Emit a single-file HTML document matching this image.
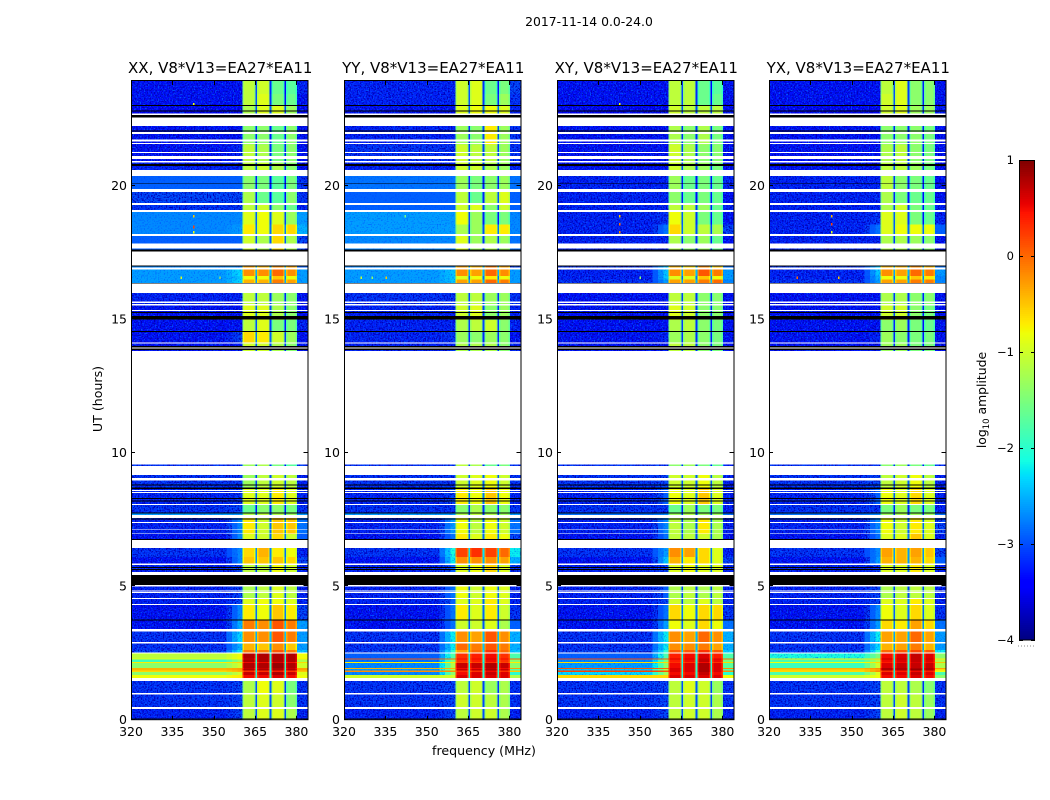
<!DOCTYPE html>
<html>
<head>
<meta charset="utf-8">
<title>2017-11-14 dynamic spectra</title>
<style>
html,body{margin:0;padding:0;background:#fff;width:1050px;height:800px;overflow:hidden}
svg{display:block}
text{font-family:"DejaVu Sans","Liberation Sans",sans-serif;fill:#000}
</style>
</head>
<body>
<svg id="figure" xmlns="http://www.w3.org/2000/svg" width="1050" height="800" viewBox="0 0 1050 800">
<defs>
<filter id="speckle" x="0" y="0" width="100%" height="100%" color-interpolation-filters="sRGB">
<feTurbulence type="fractalNoise" baseFrequency="0.72" numOctaves="1" seed="4" result="n"/>
<feColorMatrix in="n" type="matrix" values="0 0 0 0 0  0 0 0 0 0.36  0 0 0 0 1  5 0 0 0 -2.7" result="light"/>
<feTurbulence type="fractalNoise" baseFrequency="0.68" numOctaves="1" seed="17" result="m"/>
<feColorMatrix in="m" type="matrix" values="0 0 0 0 0  0 0 0 0 0  0 0 0 0 0.72  5 0 0 0 -2.25" result="dark"/>
<feMerge result="tex"><feMergeNode in="dark"/><feMergeNode in="light"/></feMerge>
<feComposite in="tex" in2="SourceAlpha" operator="in" result="clipped"/>
<feMerge><feMergeNode in="SourceGraphic"/><feMergeNode in="clipped"/></feMerge>
</filter>
<filter id="speckle-soft" x="0" y="0" width="100%" height="100%" color-interpolation-filters="sRGB">
<feTurbulence type="fractalNoise" baseFrequency="0.7" numOctaves="1" seed="9" result="n"/>
<feColorMatrix in="n" type="matrix" values="0 0 0 0 0  0 0 0 0 0.25  0 0 0 0 1  2.5 0 0 0 -1.3" result="tex"/>
<feComposite in="tex" in2="SourceAlpha" operator="in" result="clipped"/>
<feMerge><feMergeNode in="SourceGraphic"/><feMergeNode in="clipped"/></feMerge>
</filter>
</defs>
<text x="589" y="26" font-size="12.4" text-anchor="middle">2017-11-14 0.0-24.0</text>
<text x="484" y="755" font-size="12.6" text-anchor="middle">frequency (MHz)</text>
<text transform="translate(102,399) rotate(-90)" font-size="12.6" text-anchor="middle">UT (hours)</text>
<text transform="translate(986,400) rotate(-90)" font-size="12.4" text-anchor="middle">log<tspan font-size="8.5" dy="3">10</tspan><tspan dy="-3"> amplitude</tspan></text>
<g id="panels"></g>
<g id="colorbar"></g>
</svg>
<script>
// Polarisation names
const panelNames = ["XX", "YY", "XY", "YX"];
const baselineLabel = ", V8*V13=EA27*EA11";
const freqTicks = [320, 335, 350, 365, 380];
const timeTicks = [0, 5, 10, 15, 20];
const colorbarTicks = [1, 0, -1, -2, -3, -4];
const freqRange = [320, 384];
const timeRange = [0, 23.92];
const levelRange = [-4, 1];
const utReadScale = 0.9974;

// Frequency bins (MHz): background, wing, sub-bands A-D separated by gaps, right edge
const freqWing = [354.6, 356.6, 358.6, 360.5];
const subBands = [[360.5, 365.1], [365.7, 370.3], [370.9, 375.6], [376.2, 380.2]];

// UT spans (hours) of the data rows, top to bottom
const rowSpans = [
[24,23.5],[23.5,23.05],[23.05,22.3],[22.3,21.6],[21.6,20.9],[20.9,20.42],[20.42,19.82],[19.82,19.33],[19.33,19.07],[19.07,18.6],
[18.6,18.16],[18.16,17.6],[17.06,16.9],[16.9,16.66],[16.66,16.53],[16.53,16.37],[16.03,15.55],[15.55,15],[15,14.6],[14.6,14.17],
[14.17,13.84],[9.59,9.52],[9.18,8.66],[8.66,8.07],[8.07,7.78],[7.78,7.69],[7.57,7],[7,6.75],[6.45,6.11],[6.11,5.81],
[5.81,5.43],[5.05,4.575],[4.575,4.31],[4.31,3.76],[3.76,3.32],[3.32,2.87],[2.87,2.61],[2.61,2.5],[2.5,2.3],[2.3,2.26],
[2.26,2.17],[2.17,2.12],[2.12,1.95],[1.95,1.9],[1.9,1.84],[1.84,1.8],[1.8,1.68],[1.68,1.56],[1.45,0.95],[0.95,0.395],[0.395,0]
];

// Flagged spans shared by all panels (UT hours)
const blankSpans = [
[22.76,22.70],[22.61,22.30],[22.07,22.00],[21.79,21.71],[21.65,21.61],[21.31,21.27],[21.16,21.06],[20.98,20.92],[20.635,20.42],[19.92,19.82],
[19.395,19.33],[19.13,19.07],[18.23,18.16],[17.89,17.70],[17.58,17.055],[16.98,16.905],[16.37,16.03],[15.70,15.65],[15.60,15.55],[15.38,15.34],
[14.165,14.12],[13.98,13.93],[13.84,9.59],[9.52,9.18],[9.08,8.99],[8.62,8.58],[8.555,8.52],[8.105,8.07],[7.69,7.57],[7.42,7.38],
[7.15,7.12],[7.00,6.97],[6.75,6.45],[5.86,5.81],[5.55,5.43],[5.05,5.01],[4.86,4.81],[4.80,4.76],[4.575,4.525],[4.35,4.31],
[3.40,3.32],[2.92,2.87],[2.53,2.485],[1.56,1.45],[1.0,0.95],[0.47,0.395]
];
const zeroSpans = [
[23.08,23.05],[22.87,22.84],[22.70,22.61],[22.12,22.09],[20.87,20.79],[20.14,20.11],[17.65,17.58],[17.055,17.02],[16.40,16.37],[15.30,15.265],
[15.15,15.03],[14.59,14.565],[14.03,13.98],[13.93,13.88],[8.83,8.79],[8.72,8.66],[8.33,8.29],[8.23,8.19],[7.78,7.74],[7.55,7.52],
[6.79,6.75],[5.74,5.70],[5.66,5.63],[5.43,5.05],[3.76,3.72],[0.07,0.045]
];

// Levels per row in tenths of log10 amplitude: background, wing, right edge, A, B, C, D
const levelsXX = [
[-33,-33,-32,-11,-10,-16,-17],[-33,-33,-33,-11,-9,-15,-16],[-34,-34,-34,-12,-9,-9,-13],[-33,-33,-33,-14,-14,-16,-14],[-33,-32,-33,-11,-12,-15,-14],
[-32,-32,-33,-11,-10,-12,-14],[-29,-29,-31,-14,-15,-17,-15],[-30,-30,-31,-12,-16,-17,-14],[-31,-31,-32,-11,-10,-14,-16],[-27,-27,-26,-9,-8,-9,-13],
[-27,-26,-25,-7,-8,-6,-6],[-29,-29,-30,-10,-12,-6,-12],[-27,-27,-29,-3,-4,-2,-3],[-26,-23,-26,-2,-2,0,-2],[-26,-24,-26,-8,-8,-5,-8],
[-26,-23,-26,-4,-4,-1,-3],[-32,-32,-33,-11,-11,-13,-14],[-33,-33,-33,-9,-9,-12,-14],[-33,-33,-32,-11,-9,-15,-15],[-33,-30,-33,-6,-7,-10,-13],
[-33,-33,-33,-10,-10,-12,-14],[-31,-31,-31,-13,-12,-15,-17],[-31,-31,-32,-13,-11,-10,-11],[-32,-31,-32,-9,-9,-7,-9],[-31,-30,-31,-16,-14,-14,-15],
[-26,-26,-26,-12,-11,-12,-13],[-32,-27,-28,-7,-10,-5,-5],[-33,-27,-29,-9,-10,-6,-10],[-31,-27,-32,-6,-4,-7,-8],[-33,-27,-30,-5,-5,-5,-6],
[-32,-30,-32,-11,-11,-8,-10],[-32,-30,-32,-12,-11,-9,-11],[-32,-30,-32,-9,-8,-8,-9],[-33,-27,-30,-7,-8,-5,-7],[-33,-25,-26,-1,-2,1,-1],
[-31,-23,-26,-2,-2,1,-1],[-31,-25,-26,-4,-5,-2,-5],[-30,-22,-24,-1,-1,1,-1],[-11,-8,-8,8,8,8,8],[-9,-8,-7,7,8,8,8],
[-19,-13,-12,8,8,8,8],[-7,-6,-6,5,5,6,5],[-14,-10,-10,8,8,9,8],[-4,-3,-3,7,7,8,7],[-4,-3,-3,8,8,8,8],
[-6,-4,-5,3,3,4,3],[-14,-10,-9,7,7,8,7],[-8,-7,-8,5,5,6,5],[-31,-30,-31,-12,-8,-9,-15],[-31,-30,-31,-11,-9,-10,-14],[-32,-30,-32,-11,-9,-9,-12]
];
const levelsYY = [
[-32,-32,-30,-10,-9,-16,-15],[-32,-32,-31,-10,-9,-15,-13],[-33,-33,-32,-9,-8,-8,-9],[-32,-32,-31,-13,-14,-7,-13],[-31,-31,-31,-10,-11,-11,-13],
[-32,-32,-32,-10,-10,-12,-13],[-28,-28,-28,-13,-15,-14,-13],[-29,-29,-29,-11,-16,-11,-9],[-29,-29,-29,-10,-9,-14,-10],[-26,-26,-27,-8,-13,-15,-15],
[-26,-26,-27,-12,-13,-7,-7],[-27,-27,-28,-9,-13,-12,-13],[-27,-27,-30,-3,-4,-1,-3],[-26,-24,-26,-2,-3,0,-2],[-26,-24,-26,-9,-8,-7,-8],
[-26,-24,-26,-3,-3,0,-1],[-31,-31,-31,-11,-11,-13,-13],[-32,-32,-32,-10,-9,-14,-13],[-32,-32,-32,-12,-11,-10,-14],[-32,-31,-33,-13,-14,-13,-14],
[-32,-32,-32,-12,-12,-12,-14],[-31,-31,-31,-11,-12,-16,-15],[-31,-31,-31,-10,-9,-8,-10],[-32,-30,-32,-7,-8,-5,-8],[-31,-31,-31,-14,-12,-14,-14],
[-26,-26,-26,-12,-11,-12,-13],[-32,-26,-28,-8,-11,-8,-10],[-33,-28,-30,-7,-9,-7,-8],[-31,-21,-22,2,3,2,0],[-33,-22,-25,-2,-2,-2,-3],
[-32,-29,-31,-9,-8,-6,-9],[-32,-28,-32,-8,-10,-8,-9],[-32,-29,-32,-9,-9,-7,-9],[-33,-28,-31,-7,-9,-7,-10],[-33,-28,-29,-10,-10,-9,-12],
[-31,-22,-25,-2,-3,1,-2],[-31,-22,-25,0,-1,1,-1],[-30,-20,-24,-3,0,3,0],[-29,-18,-18,3,4,5,3],[1,0,1,5,5,6,5],
[-28,-15,-14,3,4,5,3],[-7,-7,-7,2,2,3,2],[-27,-12,-14,7,7,8,7],[-4,-4,-3,5,5,7,5],[-26,-12,-18,7,7,8,7],
[-2,-2,-5,3,3,5,3],[-27,-14,-20,5,6,7,6],[-10,-10,-12,6,6,6,6],[-31,-30,-31,-11,-10,-13,-12],[-31,-30,-31,-10,-10,-11,-12],[-32,-30,-32,-11,-10,-10,-12]
];
const levelsXY = [
[-33,-33,-33,-11,-11,-16,-17],[-33,-33,-33,-11,-11,-16,-16],[-34,-34,-33,-10,-11,-11,-11],[-33,-33,-33,-12,-14,-12,-15],[-33,-33,-33,-10,-12,-14,-14],
[-33,-33,-33,-10,-12,-13,-15],[-32,-32,-32,-13,-16,-15,-16],[-32,-32,-33,-14,-16,-15,-16],[-32,-32,-32,-11,-11,-13,-16],[-32,-31,-33,-8,-10,-15,-16],
[-32,-28,-30,-6,-10,-11,-12],[-32,-32,-33,-12,-14,-13,-16],[-31,-24,-28,-4,-6,-2,-5],[-32,-24,-26,-2,-3,1,-1],[-32,-24,-26,-9,-9,-5,-8],
[-31,-26,-27,-3,-3,-1,0],[-33,-33,-33,-11,-11,-14,-14],[-33,-33,-33,-9,-10,-14,-14],[-33,-33,-33,-12,-11,-14,-15],[-33,-32,-33,-13,-12,-14,-15],
[-33,-33,-33,-11,-11,-14,-15],[-31,-31,-32,-14,-13,-15,-16],[-31,-30,-32,-10,-10,-8,-11],[-32,-29,-32,-8,-9,-5,-9],[-31,-31,-32,-16,-13,-15,-15],
[-28,-27,-28,-13,-12,-13,-13],[-32,-27,-32,-11,-12,-7,-12],[-33,-28,-33,-11,-11,-10,-12],[-31,-26,-32,-2,-3,-6,-9],[-33,-24,-30,-4,-7,-6,-9],
[-32,-30,-32,-9,-8,-9,-9],[-32,-29,-32,-12,-11,-12,-11],[-32,-30,-32,-10,-11,-9,-11],[-33,-28,-31,-6,-8,-6,-6],[-33,-26,-28,-8,-9,-6,-8],
[-31,-22,-25,-2,-3,0,-2],[-31,-22,-25,-2,-2,-1,-3],[-30,-20,-23,1,1,3,1],[-29,-18,-18,4,5,6,4],[2,1,0,6,6,7,6],
[-27,-15,-15,4,5,7,5],[-6,-6,-6,3,3,5,3],[-26,-14,-17,5,6,8,6],[1,0,-2,6,6,8,6],[-24,-12,-18,6,6,8,6],
[2,1,-2,6,6,8,6],[-23,-13,-20,5,5,7,5],[-6,-6,-8,6,6,6,6],[-31,-30,-31,-11,-9,-10,-13],[-31,-30,-31,-11,-10,-10,-12],[-32,-30,-32,-11,-10,-10,-12]
];
const levelsYX = [
[-33,-33,-33,-11,-9,-14,-14],[-33,-33,-33,-10,-9,-14,-14],[-34,-34,-33,-10,-9,-13,-13],[-33,-33,-33,-14,-14,-14,-15],[-33,-33,-33,-12,-11,-14,-15],
[-33,-33,-33,-11,-11,-13,-15],[-32,-32,-33,-11,-14,-15,-16],[-32,-32,-33,-12,-15,-16,-16],[-32,-32,-32,-12,-10,-15,-16],[-32,-31,-32,-9,-9,-15,-16],
[-32,-28,-29,-9,-8,-8,-8],[-32,-32,-33,-12,-12,-13,-14],[-31,-24,-28,-4,-4,-2,-4],[-32,-24,-26,-2,-3,0,-1],[-32,-25,-27,-8,-8,-5,-7],
[-31,-26,-27,-3,-3,-1,-1],[-33,-33,-33,-12,-12,-14,-14],[-33,-33,-33,-10,-10,-14,-15],[-33,-33,-33,-14,-13,-15,-16],[-33,-32,-33,-13,-14,-15,-15],
[-33,-33,-33,-13,-13,-15,-15],[-31,-31,-31,-14,-13,-15,-16],[-31,-30,-32,-11,-10,-8,-11],[-32,-29,-32,-8,-9,-6,-9],[-31,-31,-32,-15,-13,-15,-15],
[-28,-27,-28,-13,-12,-13,-13],[-32,-27,-30,-8,-10,-7,-9],[-33,-28,-32,-9,-9,-5,-9],[-31,-27,-30,-3,-4,-3,-5],[-33,-26,-29,-4,-4,-4,-6],
[-32,-31,-32,-9,-9,-7,-9],[-32,-30,-32,-12,-11,-11,-11],[-32,-30,-32,-9,-9,-7,-9],[-33,-27,-31,-8,-9,-6,-9],[-33,-26,-28,-6,-7,-3,-6],
[-31,-22,-26,-3,-3,0,-3],[-31,-23,-26,-4,-3,-1,-4],[-30,-20,-22,0,1,2,1],[-21,-15,-14,5,6,7,6],[-7,-6,-7,7,7,7,7],
[-18,-12,-12,5,6,7,6],[-8,-6,-5,4,5,6,5],[-19,-10,-12,6,7,7,7],[-4,-2,-3,8,8,8,8],[-5,-3,-6,8,8,9,8],
[-6,-2,-8,3,4,5,4],[-18,-9,-18,6,6,7,6],[-10,-8,-14,5,5,6,5],[-31,-30,-31,-11,-11,-12,-14],[-31,-30,-31,-11,-10,-11,-13],[-32,-30,-32,-11,-10,-11,-13]
];
const panelLevels = [levelsXX, levelsYY, levelsXY, levelsYX];

// Isolated bright samples: MHz, UT, level (tenths)
const outliersXX = [[342.5,18.9,-5],[342.5,18.5,2],[342.5,18.3,-8],[338,16.6,-9],[342.5,23.1,-8],[352,16.6,-10]];
const outliersYY = [[326,16.6,-10],[335,16.6,-5],[342,18.9,-16],[330,16.6,-14]];
const outliersXY = [[342.5,18.9,-5],[342.5,18.6,0],[342.5,18.3,-2],[342.5,23.1,-8],[350,16.6,-14]];
const outliersYX = [[342.5,18.9,-4],[342.5,18.6,2],[342.5,18.3,-9],[330,16.6,0],[345,16.6,-5]];
const panelOutliers = [outliersXX, outliersYY, outliersXY, outliersYX];

const SVGNS = "http://www.w3.org/2000/svg";
const panelLefts = [131, 344, 557, 769];
const panelWidth = 176.5, plotTop = 81, plotBottom = 719.7;
const cbLeft = 1019, cbRight = 1035, cbTop = 160, cbBottom = 640;
const bandEdge = 0.5, bandEdgeDrop = 0.25;

function node(parent, tag, attrs) {
  const el = document.createElementNS(SVGNS, tag);
  for (const k in attrs) el.setAttribute(k, attrs[k]);
  parent.appendChild(el);
  return el;
}
function jet(level) {
  const f = Math.max(0, Math.min(1, (level - levelRange[0]) / (levelRange[1] - levelRange[0])));
  const seg = (pts) => {
    for (let i = 1; i < pts.length; i++) {
      if (f <= pts[i][0]) {
        const t = (f - pts[i-1][0]) / (pts[i][0] - pts[i-1][0]);
        return pts[i-1][1] + t * (pts[i][1] - pts[i-1][1]);
      }
    }
    return pts[pts.length-1][1];
  };
  const r = seg([[0,0],[0.35,0],[0.66,1],[0.89,1],[1,0.5]]);
  const g = seg([[0,0],[0.125,0],[0.375,1],[0.64,1],[0.91,0],[1,0]]);
  const b = seg([[0,0.5],[0.11,1],[0.34,1],[0.65,0],[1,0]]);
  return "rgb(" + Math.round(r*255) + "," + Math.round(g*255) + "," + Math.round(b*255) + ")";
}
function yScale(ut) {
  return plotBottom - (ut - timeRange[0]) / (timeRange[1] - timeRange[0]) * (plotBottom - plotTop);
}
function xScale(left, mhz) {
  return left + (mhz - freqRange[0]) / (freqRange[1] - freqRange[0]) * panelWidth;
}
function drawCell(group, left, f0, f1, t0, t1, color) {
  const x0 = xScale(left, f0), x1 = xScale(left, f1);
  const y0 = yScale(Math.min(timeRange[1], t0 * utReadScale)), y1 = yScale(t1 * utReadScale);
  const cell = node(group, "rect", {x: x0.toFixed(2), y: y0.toFixed(2), width: (x1 - x0).toFixed(2), height: (y1 - y0).toFixed(2), fill: color, "shape-rendering": "crispEdges"});
  
  
  return cell;
}

const panelsRoot = document.getElementById("panels");
panelNames.forEach(function (name, p) {
  const left = panelLefts[p];
  const levels = panelLevels[p];
  const panel = node(panelsRoot, "g", {});
  
  

  const noisyLayer = node(panel, "g", {filter: "url(#speckle)"});
  
  
  const softLayer = node(panel, "g", {filter: "url(#speckle-soft)"});
  
  
  const bandLayer = node(panel, "g", {});
  
  
  const layerFor = function (level) {
    return level <= -3.0 ? noisyLayer : (level < -2 ? softLayer : bandLayer);
  };

  rowSpans.forEach(function (span, r) {
    const v = levels[r].map(function (n) { return n / 10; });
    const bg = v[0], wing = v[1], right = v[2], bands = v.slice(3);
    drawCell(layerFor(bg), left, freqRange[0], freqWing[0], span[0], span[1], jet(bg));
    for (let w = 0; w < 3; w++) {
      const k = (w + 1) / 3;
      const wl = bg + (wing - bg) * k;
      drawCell(layerFor(wl), left, freqWing[w], freqWing[w + 1], span[0], span[1], jet(wl));
    }
    drawCell(layerFor(right), left, subBands[3][1], freqRange[1], span[0], span[1], jet(right));
    subBands.forEach(function (b, i) {
      drawCell(bandLayer, left, b[0], b[0] + bandEdge, span[0], span[1], jet(bands[i] - bandEdgeDrop));
      drawCell(bandLayer, left, b[0] + bandEdge, b[1] - bandEdge, span[0], span[1], jet(bands[i]));
      drawCell(bandLayer, left, b[1] - bandEdge, b[1], span[0], span[1], jet(bands[i] - bandEdgeDrop));
      if (i < 3) {
        const gap = -2.4 + 0.6 * (bands[i] + bands[i + 1]) / 2;
        drawCell(bandLayer, left, b[1], subBands[i + 1][0], span[0], span[1], jet(gap));
      }
    });
  });

  panelOutliers[p].forEach(function (o) {
    drawCell(bandLayer, left, o[0], o[0] + 0.5, o[1] + 0.05, o[1] - 0.05, jet(o[2] / 10));
  });
  blankSpans.forEach(function (s) {
    drawCell(panel, left, freqRange[0], freqRange[1], s[0], s[1], "#ffffff");
  });
  zeroSpans.forEach(function (s) {
    drawCell(panel, left, freqRange[0], freqRange[1], s[0], s[1], "#000000");
  });

  const frame = node(panel, "rect", {x: left + 0.5, y: plotTop - 0.5, width: panelWidth, height: plotBottom - plotTop + 0.5, fill: "none", stroke: "#000", "stroke-width": 1});
  
  

  freqTicks.forEach(function (t) {
    const x = Math.round(xScale(left, t)) + 0.5;
    const tickB = node(panel, "line", {x1: x, x2: x, y1: plotBottom, y2: plotBottom - 4, stroke: "#000", "stroke-width": 1});
    
    
    const tickT = node(panel, "line", {x1: x, x2: x, y1: plotTop, y2: plotTop + 4, stroke: "#000", "stroke-width": 1});
    
    
    const lab = node(panel, "text", {x: xScale(left, t), y: plotBottom + 16.5, "font-size": 12.5, "text-anchor": "middle"});
    lab.textContent = String(t);
    
    
  });
  timeTicks.forEach(function (t) {
    const y = Math.round(yScale(t)) - 0.5;
    const tickL = node(panel, "line", {x1: left, x2: left + 4, y1: y, y2: y, stroke: "#000", "stroke-width": 1});
    
    
    const tickR = node(panel, "line", {x1: left + panelWidth, x2: left + panelWidth - 4, y1: y, y2: y, stroke: "#000", "stroke-width": 1});
    
    
    const lab = node(panel, "text", {x: left - 4, y: yScale(t) + 4.5, "font-size": 12.5, "text-anchor": "end"});
    lab.textContent = String(t);
    
    
  });
  const title = node(panel, "text", {x: left + panelWidth / 2 + 1, y: 73, "font-size": 15, "text-anchor": "middle"});
  title.textContent = name + baselineLabel;
  
  
});

// Colorbar
const cb = document.getElementById("colorbar");
function cbScale(level) {
  return cbBottom - (level - levelRange[0]) / (levelRange[1] - levelRange[0]) * (cbBottom - cbTop);
}
for (let lv = levelRange[0]; lv < levelRange[1] - 1e-9; lv += 0.02) {
  const y1 = cbScale(lv), y0 = cbScale(lv + 0.02);
  const step = node(cb, "rect", {x: cbLeft, y: y0.toFixed(2), width: cbRight - cbLeft, height: (y1 - y0 + 0.4).toFixed(2), fill: jet(lv + 0.01), "shape-rendering": "crispEdges"});
  
  
}
const cbFrame = node(cb, "rect", {x: cbLeft + 0.5, y: cbTop + 0.5, width: cbRight - cbLeft - 1, height: cbBottom - cbTop - 0.5, fill: "none", stroke: "#000", "stroke-width": 1});


colorbarTicks.forEach(function (t) {
  const y = Math.round(cbScale(t)) + 0.5;
  const a = node(cb, "line", {x1: cbLeft, x2: cbLeft + 4, y1: y, y2: y, stroke: "#000"});
  
  
  const b = node(cb, "line", {x1: cbRight, x2: cbRight - 4, y1: y, y2: y, stroke: "#000"});
  
  
  const lab = node(cb, "text", {x: cbLeft - 5, y: cbScale(t) + 4, "font-size": 11.5, "text-anchor": "end"});
  lab.textContent = String(t).replace("-", "\u2212");
  
  
});
const dots = node(cb, "line", {x1: cbLeft - 1, x2: cbRight, y1: 646, y2: 646, stroke: "#888", "stroke-width": 1, "stroke-dasharray": "1 2"});


</script>
</body>
</html>
